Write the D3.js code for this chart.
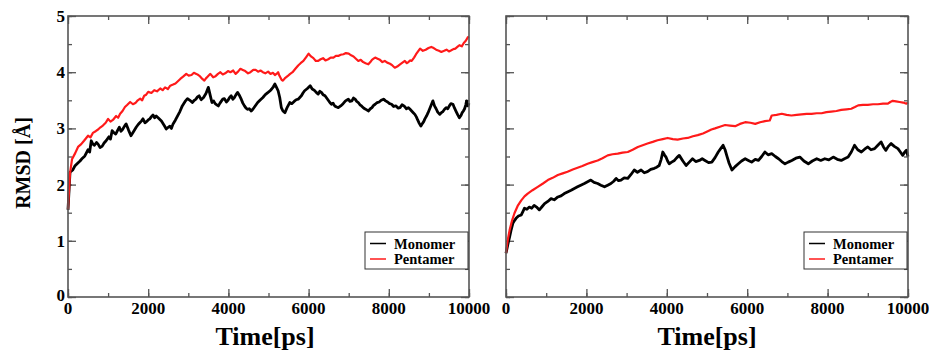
<!DOCTYPE html>
<html><head><meta charset="utf-8">
<script src="https://cdn.jsdelivr.net/npm/d3@7"></script>
<style>body{margin:0;background:#fff}svg{display:block}</style>
</head><body>
<svg id="chart" width="929" height="352"></svg>
<script>
// ---- data ----
const xTicks = [0, 2000, 4000, 6000, 8000, 10000];
const yTicks = [0, 1, 2, 3, 4, 5];
const seriesNames = ["Monomer", "Pentamer"];
const seriesColors = ["#000000", "#ff1a1a"];
const yLabel = "RMSD [Å]";
const xLabel = "Time[ps]";

const leftMonoT = [0,50,120,170,240,300,360,420,500,540,580,620,660,710,750,800,850,900,950,1020,1060,1100,1150,1190,1240,1280,1320,1360,1410,1450,1510,1570,1640,1700,1750,1790,1830,1870,1920,1960,2000,2040,2080,2120,2160,2200,2260,2330,2400,2450,2500,2540,2580,2620,2680,2730,2790,2850,2920,2980,3040,3100,3150,3190,3230,3270,3320,3380,3440,3500,3550,3590,3630,3670,3710,3750,3790,3820,3860,3900,3950,3990,4030,4070,4110,4150,4190,4230,4280,4320,4360,4400,4440,4480,4520,4570,4610,4650,4690,4730,4800,4860,4920,4990,5040,5080,5120,5160,5200,5240,5280,5320,5360,5410,5470,5530,5580,5640,5690,5740,5780,5820,5860,5900,5970,6040,6090,6140,6190,6240,6280,6320,6360,6410,6450,6490,6530,6570,6610,6650,6700,6740,6800,6860,6920,6990,7030,7080,7120,7160,7200,7240,7280,7320,7360,7400,7450,7490,7540,7580,7620,7660,7710,7760,7810,7870,7920,7970,8020,8070,8120,8180,8230,8280,8330,8380,8440,8490,8530,8570,8610,8650,8690,8720,8760,8800,8840,8870,8900,8940,8980,9020,9060,9100,9140,9180,9220,9270,9310,9350,9390,9430,9470,9510,9550,9600,9640,9680,9720,9760,9800,9830,9860,9890,9920,9940,9970,10000];
const leftMonoV = [1.55,2.22,2.26,2.33,2.38,2.42,2.47,2.51,2.62,2.58,2.78,2.72,2.70,2.75,2.72,2.66,2.68,2.74,2.78,2.85,2.81,2.96,2.92,2.90,2.97,3.02,2.95,2.98,3.04,3.08,2.97,2.87,2.95,3.02,3.07,3.10,3.13,3.17,3.10,3.12,3.15,3.17,3.21,3.24,3.19,3.22,3.18,3.13,3.05,2.99,3.02,3.04,3.00,3.08,3.15,3.22,3.30,3.40,3.48,3.53,3.50,3.46,3.50,3.52,3.56,3.58,3.51,3.55,3.62,3.73,3.58,3.46,3.49,3.44,3.42,3.40,3.45,3.48,3.52,3.53,3.47,3.50,3.55,3.58,3.52,3.55,3.60,3.64,3.58,3.52,3.45,3.40,3.36,3.34,3.35,3.31,3.34,3.38,3.42,3.46,3.51,3.55,3.60,3.64,3.67,3.70,3.74,3.79,3.73,3.67,3.55,3.37,3.31,3.28,3.38,3.46,3.44,3.48,3.51,3.52,3.55,3.58,3.63,3.67,3.71,3.76,3.70,3.68,3.64,3.61,3.66,3.64,3.60,3.58,3.54,3.50,3.46,3.43,3.45,3.40,3.38,3.37,3.40,3.44,3.49,3.52,3.48,3.49,3.54,3.52,3.48,3.46,3.42,3.40,3.37,3.35,3.33,3.31,3.35,3.37,3.41,3.43,3.46,3.47,3.50,3.52,3.49,3.47,3.44,3.43,3.39,3.40,3.36,3.37,3.42,3.40,3.35,3.37,3.34,3.31,3.28,3.25,3.20,3.15,3.09,3.04,3.09,3.12,3.17,3.22,3.28,3.35,3.42,3.49,3.40,3.35,3.29,3.25,3.28,3.30,3.34,3.37,3.35,3.40,3.44,3.43,3.36,3.30,3.24,3.19,3.23,3.28,3.31,3.35,3.42,3.49,3.40,3.45];

const leftPentT = [0,50,100,180,250,330,400,500,560,620,690,750,810,870,940,1000,1060,1120,1200,1250,1300,1360,1420,1480,1550,1620,1680,1740,1800,1850,1900,1950,2000,2080,2150,2220,2300,2360,2420,2490,2550,2620,2680,2740,2800,2870,2950,3010,3080,3140,3200,3250,3300,3350,3400,3440,3480,3520,3550,3620,3680,3740,3800,3860,3920,3990,4050,4120,4180,4240,4300,4360,4420,4490,4550,4620,4680,4740,4800,4860,4920,4990,5050,5110,5160,5200,5240,5270,5300,5330,5360,5420,5490,5540,5600,5670,5740,5800,5870,5940,6000,6060,6120,6180,6240,6300,6360,6420,6490,6550,6620,6680,6740,6800,6870,6930,7000,7060,7120,7180,7240,7300,7360,7420,7490,7540,7580,7620,7660,7720,7780,7840,7900,7960,8030,8090,8150,8210,8280,8340,8400,8450,8490,8530,8570,8630,8680,8730,8780,8850,8920,8990,9060,9120,9180,9250,9310,9380,9440,9500,9560,9610,9660,9710,9760,9820,9870,9920,9970,10000];
const leftPentV = [1.56,2.20,2.45,2.56,2.67,2.72,2.78,2.87,2.84,2.92,2.95,2.98,3.02,3.05,3.10,3.17,3.12,3.15,3.22,3.19,3.26,3.31,3.38,3.42,3.47,3.43,3.45,3.50,3.53,3.50,3.58,3.60,3.65,3.63,3.68,3.66,3.71,3.68,3.73,3.70,3.76,3.78,3.80,3.84,3.88,3.92,3.97,3.94,3.95,3.99,3.97,3.95,3.92,3.88,3.85,3.89,3.92,3.95,3.97,3.91,3.93,3.97,4.00,3.96,3.98,4.02,4.00,4.03,3.97,4.01,4.06,4.04,4.02,3.98,4.00,4.04,4.04,4.01,4.03,4.00,3.98,4.01,3.97,3.99,3.95,3.97,4.00,3.94,3.90,3.86,3.85,3.90,3.94,3.97,4.00,4.06,4.12,4.16,4.20,4.27,4.33,4.28,4.25,4.20,4.20,4.23,4.25,4.21,4.23,4.26,4.26,4.29,4.29,4.31,4.32,4.34,4.33,4.30,4.28,4.24,4.20,4.22,4.18,4.16,4.14,4.18,4.22,4.24,4.26,4.24,4.22,4.18,4.20,4.17,4.15,4.12,4.08,4.10,4.14,4.17,4.20,4.16,4.18,4.21,4.20,4.26,4.32,4.37,4.42,4.38,4.40,4.43,4.45,4.43,4.40,4.38,4.36,4.38,4.40,4.37,4.39,4.41,4.42,4.45,4.48,4.46,4.52,4.56,4.62,4.63];

const rightMonoT = [0,50,90,130,170,210,250,310,380,420,460,520,580,640,700,760,830,900,960,1040,1120,1200,1290,1370,1450,1530,1620,1700,1780,1860,1950,2030,2110,2190,2280,2360,2450,2530,2610,2680,2740,2800,2860,2940,3030,3110,3190,3270,3360,3440,3520,3600,3690,3750,3810,3860,3900,3940,3980,4020,4060,4120,4190,4250,4310,4400,4480,4560,4640,4720,4810,4880,4950,5040,5120,5200,5280,5340,5400,5450,5490,5550,5620,5700,5780,5860,5950,6030,6110,6200,6280,6360,6440,6520,6610,6700,6780,6860,6940,7020,7110,7210,7310,7410,7520,7620,7730,7830,7930,8030,8140,8240,8340,8420,8510,8590,8670,8750,8840,8920,9000,9080,9170,9250,9330,9390,9450,9510,9580,9660,9750,9810,9870,9920,9960,10000];
const rightMonoV = [0.78,0.95,1.07,1.20,1.31,1.36,1.40,1.44,1.46,1.52,1.58,1.56,1.60,1.58,1.63,1.60,1.55,1.61,1.66,1.70,1.75,1.73,1.78,1.80,1.84,1.87,1.90,1.93,1.96,1.99,2.02,2.05,2.08,2.04,2.02,1.99,1.96,1.99,2.02,2.06,2.11,2.07,2.08,2.12,2.11,2.18,2.26,2.22,2.26,2.21,2.23,2.27,2.29,2.31,2.34,2.45,2.58,2.53,2.49,2.42,2.37,2.40,2.43,2.48,2.52,2.42,2.34,2.40,2.46,2.41,2.43,2.46,2.43,2.39,2.40,2.48,2.58,2.64,2.70,2.62,2.52,2.38,2.26,2.32,2.37,2.42,2.46,2.43,2.40,2.45,2.43,2.50,2.58,2.53,2.55,2.50,2.46,2.41,2.37,2.40,2.43,2.47,2.49,2.42,2.37,2.42,2.46,2.43,2.46,2.44,2.49,2.45,2.43,2.46,2.49,2.58,2.70,2.62,2.58,2.63,2.67,2.62,2.64,2.70,2.76,2.67,2.61,2.68,2.73,2.68,2.64,2.58,2.52,2.58,2.61,2.50];

const rightPentT = [0,40,90,150,210,290,380,460,540,660,790,920,1040,1160,1290,1410,1530,1660,1780,1900,2030,2150,2280,2400,2530,2650,2780,2900,3030,3150,3280,3400,3520,3650,3770,3900,4020,4150,4270,4400,4520,4650,4770,4900,5020,5110,5200,5320,5450,5570,5700,5820,5950,6080,6200,6320,6440,6560,6610,6730,6860,6980,7100,7230,7350,7480,7600,7730,7850,7970,8090,8220,8340,8470,8590,8680,8760,8880,9000,9130,9250,9380,9500,9560,9620,9700,9790,9880,9960,10000];
const rightPentV = [0.78,1.00,1.19,1.36,1.49,1.62,1.72,1.79,1.84,1.90,1.96,2.02,2.08,2.12,2.17,2.20,2.23,2.27,2.30,2.33,2.37,2.40,2.43,2.47,2.52,2.54,2.55,2.57,2.58,2.62,2.67,2.70,2.73,2.76,2.79,2.81,2.83,2.81,2.80,2.82,2.83,2.86,2.88,2.91,2.95,2.98,3.00,3.03,3.06,3.05,3.04,3.08,3.11,3.10,3.08,3.11,3.13,3.14,3.23,3.24,3.26,3.24,3.23,3.24,3.25,3.26,3.26,3.27,3.27,3.29,3.30,3.31,3.33,3.34,3.35,3.38,3.41,3.42,3.42,3.43,3.43,3.44,3.44,3.47,3.49,3.48,3.47,3.46,3.44,3.46];

// ---- drawing ----
const svg = d3.select("#chart");
const font = "'Liberation Serif','Times New Roman',serif";

const panels = [
  {x0: 68, x1: 469, showY: true, xLabelX: 265, legX: 365,
   series: [{t: leftMonoT, v: leftMonoV}, {t: leftPentT, v: leftPentV}]},
  {x0: 506, x1: 908, showY: false, xLabelX: 707, legX: 804,
   series: [{t: rightMonoT, v: rightMonoV}, {t: rightPentT, v: rightPentV}]}
];
const yTop = 16, yBot = 297;

panels.forEach(p => {
  const x = d3.scaleLinear().domain([0, 10000]).range([p.x0, p.x1]);
  const y = d3.scaleLinear().domain([0, 5]).range([yBot, yTop]);
  const g = svg.append("g");

  const xMinor = d3.range(0, 10001, 1000);
  const yMinor = d3.range(0, 5.01, 0.5);
  const frameColor = "#555";

  const mkAxis = (axisFn, scale, vals, size, tr) => {
    const a = g.append("g").attr("transform", tr)
      .call(axisFn(scale).tickValues(vals).tickSize(size).tickFormat(""));
    a.select(".domain").remove();
    a.selectAll("line").attr("stroke", frameColor).attr("stroke-width", 1.3);
  };
  mkAxis(d3.axisTop, x, xMinor, 4, `translate(0,${yBot})`);
  mkAxis(d3.axisTop, x, xTicks, 8, `translate(0,${yBot})`);
  mkAxis(d3.axisBottom, x, xMinor, 4, `translate(0,${yTop})`);
  mkAxis(d3.axisBottom, x, xTicks, 8, `translate(0,${yTop})`);
  mkAxis(d3.axisRight, y, yMinor, 4, `translate(${p.x0},0)`);
  mkAxis(d3.axisRight, y, yTicks, 8, `translate(${p.x0},0)`);
  mkAxis(d3.axisLeft, y, yMinor, 4, `translate(${p.x1},0)`);
  mkAxis(d3.axisLeft, y, yTicks, 8, `translate(${p.x1},0)`);

  const line = d3.line().x(d => x(d[0])).y(d => y(d[1]));
  p.series.forEach((s, i) => {
    const pts = s.t.map((t, k) => [t, s.v[k]]);
    g.append("path").datum(pts).attr("d", line)
      .attr("fill", "none").attr("stroke", seriesColors[i])
      .attr("stroke-width", i === 0 ? 2.8 : 2.2).attr("stroke-linejoin", "round");
  });

  g.append("rect").attr("x", p.x0).attr("y", yTop)
    .attr("width", p.x1 - p.x0).attr("height", yBot - yTop)
    .attr("fill", "none").attr("stroke", frameColor).attr("stroke-width", 1.6);

  g.selectAll(".xt").data(xTicks).enter().append("text")
    .attr("x", d => x(d)).attr("y", 314).attr("text-anchor", "middle")
    .attr("font-family", font).attr("font-weight", "bold").attr("font-size", 17)
    .text(d => d);

  if (p.showY) {
    g.selectAll(".yt").data(yTicks).enter().append("text")
      .attr("x", p.x0 - 3).attr("y", d => y(d) + 6 - (d === 0 ? 2 : 0)).attr("text-anchor", "end")
      .attr("font-family", font).attr("font-weight", "bold").attr("font-size", 17)
      .text(d => d);
    svg.append("text").attr("transform", "translate(30,163) rotate(-90)")
      .attr("text-anchor", "middle").attr("font-family", font)
      .attr("font-weight", "bold").attr("font-size", 20).text(yLabel);
  }

  g.append("text").attr("x", p.xLabelX).attr("y", 345).attr("text-anchor", "middle")
    .attr("font-family", font).attr("font-weight", "bold").attr("font-size", 26)
    .text(xLabel);

  const lg = g.append("g");
  lg.append("rect").attr("x", p.legX).attr("y", 232).attr("width", p.x1 - p.legX - 1)
    .attr("height", 37).attr("fill", "#fff").attr("stroke", "#333").attr("stroke-width", 1);
  seriesNames.forEach((n, i) => {
    const yy = 243.5 + i * 15.5;
    lg.append("line").attr("x1", p.legX + 5).attr("x2", p.legX + 21)
      .attr("y1", yy).attr("y2", yy).attr("stroke", seriesColors[i]).attr("stroke-width", 1.5);
    lg.append("text").attr("x", p.legX + 29).attr("y", yy + 5)
      .attr("font-family", font).attr("font-weight", "bold").attr("font-size", 14.5)
      .text(n);
  });
});
</script>
</body></html>
